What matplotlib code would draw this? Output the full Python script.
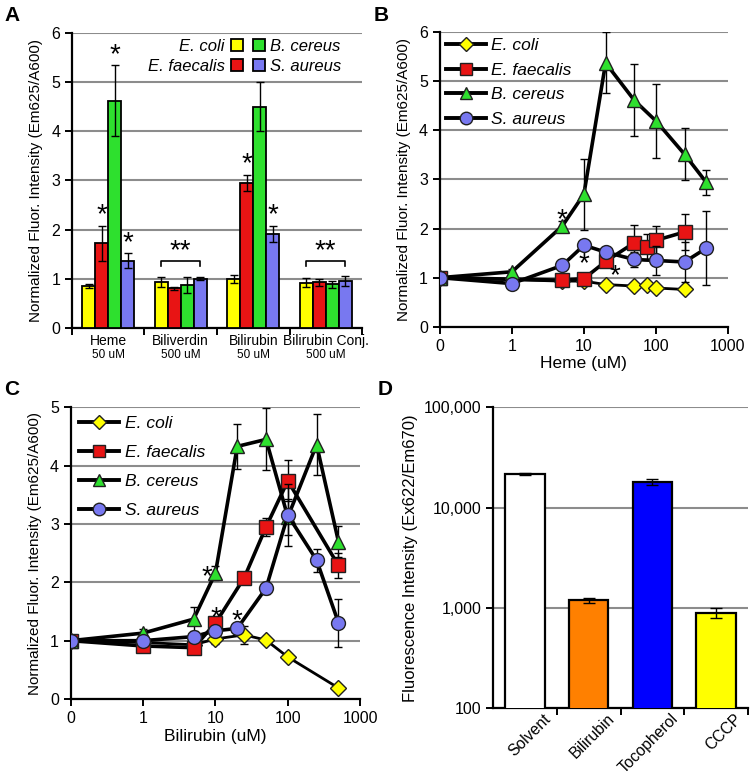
import numpy as np
import matplotlib
matplotlib.use('Agg')
import matplotlib.pyplot as plt
from matplotlib.ticker import FixedLocator, NullLocator, FixedFormatter
from matplotlib.lines import Line2D
from matplotlib.patches import Patch
import matplotlib.transforms as mtrans

plt.rcParams['font.family'] = ['Liberation Sans', 'DejaVu Sans']

# ---------------- data ----------------
species = ['E. coli', 'E. faecalis', 'B. cereus', 'S. aureus']
sp_colors = ['#FFFF00', '#E81414', '#2EE02E', '#7878F0']
sp_markers = ['D', 's', '^', 'o']

# Panel A
a_groups = ['Heme', 'Biliverdin', 'Bilirubin', 'Bilirubin Conj.']
a_conc = ['50 uM', '500 uM', '50 uM', '500 uM']
a_ecoli = [0.85, 0.93, 1.00, 0.92]
a_ecoli_err = [0.04, 0.10, 0.08, 0.09]
a_faecalis = [1.72, 0.81, 2.95, 0.93]
a_faecalis_err = [0.35, 0.03, 0.17, 0.07]
a_cereus = [4.62, 0.88, 4.50, 0.89]
a_cereus_err = [0.72, 0.16, 0.50, 0.07]
a_aureus = [1.37, 1.00, 1.91, 0.95]
a_aureus_err = [0.15, 0.03, 0.16, 0.10]
a_star = [[0, 1, 1, 1], [0, 0, 0, 0], [0, 1, 1, 1], [0, 0, 0, 0]]
a_bracket = [0, 1, 0, 1]

# Panel B (heme)
b_ecoli_x = [0, 5, 10, 20, 50, 75, 100, 250]
b_ecoli_y = [1.0, 0.93, 0.93, 0.86, 0.83, 0.86, 0.79, 0.76]
b_ecoli_e = [0, 0.03, 0.03, 0.03, 0.03, 0.03, 0.03, 0.03]
b_faecalis_x = [0, 5, 10, 20, 50, 75, 100, 250]
b_faecalis_y = [1.0, 0.95, 0.98, 1.33, 1.71, 1.62, 1.76, 1.93]
b_faecalis_e = [0, 0.07, 0.07, 0.05, 0.37, 0.27, 0.30, 0.37]
b_cereus_x = [0, 1, 5, 10, 20, 50, 100, 250, 500]
b_cereus_y = [1.0, 1.12, 2.05, 2.70, 5.37, 4.61, 4.19, 3.51, 2.94]
b_cereus_e = [0, 0.05, 0.10, 0.72, 0.62, 0.73, 0.75, 0.53, 0.25]
b_aureus_x = [0, 1, 5, 10, 20, 50, 100, 250, 500]
b_aureus_y = [1.0, 0.88, 1.25, 1.66, 1.52, 1.37, 1.35, 1.32, 1.60]
b_aureus_e = [0, 0.03, 0.06, 0.06, 0.05, 0.15, 0.30, 0.40, 0.75]
b_star_x = [5, 10, 27]
b_star_y = [2.29, 1.39, 1.15]

# Panel C (bilirubin)
c_ecoli_x = [0, 1, 5, 10, 25, 50, 100, 500]
c_ecoli_y = [1.0, 0.97, 0.93, 1.03, 1.10, 1.01, 0.72, 0.19]
c_ecoli_e = [0, 0.03, 0.03, 0.08, 0.15, 0.03, 0.03, 0.03]
c_faecalis_x = [0, 1, 5, 10, 25, 50, 100, 500]
c_faecalis_y = [1.0, 0.91, 0.88, 1.30, 2.08, 2.95, 3.74, 2.29]
c_faecalis_e = [0, 0.05, 0.05, 0.06, 0.05, 0.15, 0.35, 0.22]
c_cereus_x = [0, 1, 5, 10, 20, 50, 100, 250, 500]
c_cereus_y = [1.0, 1.13, 1.37, 2.16, 4.33, 4.45, 3.12, 4.36, 2.70]
c_cereus_e = [0, 0.07, 0.20, 0.12, 0.39, 0.53, 0.30, 0.52, 0.27]
c_aureus_x = [0, 1, 5, 10, 20, 50, 100, 250, 500]
c_aureus_y = [1.0, 1.0, 1.07, 1.17, 1.21, 1.90, 3.15, 2.38, 1.31]
c_aureus_e = [0, 0.03, 0.05, 0.05, 0.05, 0.10, 0.53, 0.20, 0.41]
c_star_x = [7.6, 10, 20]
c_star_y = [2.21, 1.50, 1.45]

# Panel D
d_labels = ['Solvent', 'Bilirubin', 'Tocopherol', 'CCCP']
d_vals = [21500, 1200, 18100, 895]
d_err = [400, 70, 1400, 100]
d_colors = ['#FFFFFF', '#FF8000', '#0000FF', '#FFFF00']

# ---------------- style ----------------
GRID = '#8C8C8C'
TICKFS = 11.5
YLABFS = 11
STARFS = 20
YLAB = 'Normalized Fluor. Intensity (Em625/A600)'

fig = plt.figure(figsize=(7.52, 7.80), dpi=100)


def style_axes(ax):
    for s in ['top', 'right']:
        ax.spines[s].set_visible(False)
    for s in ['left', 'bottom']:
        ax.spines[s].set_linewidth(1.6)
    ax.tick_params(axis='both', which='both', direction='out', width=1.4,
                   length=5, labelsize=TICKFS)
    ax.yaxis.grid(True, color=GRID, lw=1.5)
    ax.set_axisbelow(True)


# ---------------- Panel A ----------------
axA = fig.add_axes([0.0957, 0.5795, 0.3857, 0.3782])
style_axes(axA)
xg = np.arange(len(a_groups))
w = 0.18
a_vals = [a_ecoli, a_faecalis, a_cereus, a_aureus]
a_errs = [a_ecoli_err, a_faecalis_err, a_cereus_err, a_aureus_err]
for i in range(4):
    xs = xg + (i - 1.5) * w
    axA.bar(xs, a_vals[i], w, color=sp_colors[i], edgecolor='black', lw=1.3,
            yerr=a_errs[i], error_kw=dict(ecolor='black', elinewidth=1.0,
                                          capsize=3, capthick=1.0),
            label=species[i], zorder=3)
    for g in range(4):
        if a_star[g][i]:
            axA.text(xs[g], a_vals[i][g] + a_errs[i][g] - 0.05, '*',
                     ha='center', va='bottom', fontsize=STARFS)
for g in range(4):
    if a_bracket[g]:
        x0 = xg[g] - 1.5 * w
        x1 = xg[g] + 1.5 * w
        axA.plot([x0, x0, x1, x1], [1.27, 1.37, 1.37, 1.27], color='black',
                 lw=1.2, zorder=4)
        axA.text(xg[g], 1.3, '**', ha='center', va='bottom', fontsize=STARFS)
axA.set_xlim(-0.5, 3.5)
axA.set_ylim(0, 6)
axA.set_yticks(range(0, 7))
axA.xaxis.set_major_locator(FixedLocator([]))
axA.xaxis.set_minor_locator(FixedLocator([-0.5, 0.5, 1.5, 2.5, 3.5]))
axA.tick_params(axis='x', which='minor', length=5, width=1.4)
trA = mtrans.blended_transform_factory(axA.transData, axA.transAxes)
for g in range(4):
    axA.text(xg[g], -0.022, a_groups[g], transform=trA, ha='center',
             va='top', fontsize=10)
    axA.text(xg[g], -0.072, a_conc[g], transform=trA, ha='center',
             va='top', fontsize=8.5)
axA.set_ylabel(YLAB, fontsize=YLABFS, labelpad=6)

hA = [Patch(facecolor=sp_colors[i], edgecolor='black', lw=1.3)
      for i in range(4)]
legA1 = axA.legend([hA[0], hA[1]], [species[0], species[1]], loc='upper right',
                   bbox_to_anchor=(0.59, 0.98), frameon=False,
                   markerfirst=False, handlelength=0.7, handleheight=0.7,
                   handletextpad=0.4, labelspacing=0.3, borderpad=0,
                   borderaxespad=0, prop=dict(style='italic', size=12))
axA.add_artist(legA1)
axA.legend([hA[2], hA[3]], [species[2], species[3]], loc='upper left',
           bbox_to_anchor=(0.625, 0.98), frameon=False,
           handlelength=0.7, handleheight=0.7,
           handletextpad=0.3, labelspacing=0.3, borderpad=0,
           borderaxespad=0, prop=dict(style='italic', size=12))


# ---------------- line panels ----------------
def line_panel(ax, xs, ys, es, stars_x, stars_y, ymax, xlabel, leg_anchor,
               leg_spacing):
    style_axes(ax)
    ax.set_xscale('symlog', linthresh=1, linscale=0.9)
    lws = [2.0, 2.6, 2.6, 2.6]
    mss = [8, 9.5, 10, 10]
    handles = []
    for i in range(4):
        ax.errorbar(xs[i], ys[i], yerr=es[i], color='black', lw=lws[i],
                    marker=sp_markers[i], ms=mss[i], mfc=sp_colors[i],
                    mec='#202020', mew=1.0, ecolor='black', elinewidth=1.0,
                    capsize=3, capthick=1.0, zorder=3 + i)
        handles.append(Line2D([], [], color='black', lw=2.8,
                              marker=sp_markers[i], ms=mss[i] - 1,
                              mfc=sp_colors[i], mec='#202020', mew=1.0))
    for sx, sy in zip(stars_x, stars_y):
        ax.text(sx, sy - 0.12, '*', ha='center', va='center',
                fontsize=STARFS, zorder=10)
    ax.set_xlim(0, 1000)
    ax.set_ylim(0, ymax)
    ax.set_yticks(range(0, ymax + 1))
    ax.xaxis.set_major_locator(FixedLocator([0, 1, 10, 100, 1000]))
    ax.xaxis.set_major_formatter(FixedFormatter(['0', '1', '10', '100', '1000']))
    ax.xaxis.set_minor_locator(NullLocator())
    ax.set_xlabel(xlabel, fontsize=12.5, labelpad=2)
    ax.set_ylabel(YLAB, fontsize=YLABFS, labelpad=6)
    ax.legend(handles, species, loc='upper left', bbox_to_anchor=leg_anchor,
              frameon=False, handlelength=2.3, handletextpad=0.3,
              labelspacing=leg_spacing, borderpad=0, borderaxespad=0,
              prop=dict(style='italic', size=12.5))


axB = fig.add_axes([0.585, 0.581, 0.383, 0.378])
line_panel(axB,
           [b_ecoli_x, b_faecalis_x, b_cereus_x, b_aureus_x],
           [b_ecoli_y, b_faecalis_y, b_cereus_y, b_aureus_y],
           [b_ecoli_e, b_faecalis_e, b_cereus_e, b_aureus_e],
           b_star_x, b_star_y, 6, 'Heme (uM)', (0.02, 0.98), 0.55)

axC = fig.add_axes([0.094, 0.1038, 0.385, 0.374])
line_panel(axC,
           [c_ecoli_x, c_faecalis_x, c_cereus_x, c_aureus_x],
           [c_ecoli_y, c_faecalis_y, c_cereus_y, c_aureus_y],
           [c_ecoli_e, c_faecalis_e, c_cereus_e, c_aureus_e],
           c_star_x, c_star_y, 5, 'Bilirubin (uM)', (0.03, 0.97), 0.8)

# ---------------- Panel D ----------------
axD = fig.add_axes([0.6556, 0.0919, 0.3391, 0.3859])
style_axes(axD)
xd = np.arange(len(d_labels))
axD.bar(xd, d_vals, 0.62, color=d_colors, edgecolor='black', lw=1.6,
        yerr=d_err, error_kw=dict(ecolor='black', elinewidth=1.0, capsize=4,
                                  capthick=1.0), zorder=3)
axD.set_yscale('log')
axD.set_ylim(100, 100000)
axD.set_xlim(-0.5, 3.5)
axD.yaxis.set_major_locator(FixedLocator([100, 1000, 10000, 100000]))
axD.yaxis.set_major_formatter(FixedFormatter(['100', '1,000', '10,000', '100,000']))
axD.yaxis.set_minor_locator(NullLocator())
axD.xaxis.set_major_locator(FixedLocator(list(xd)))
axD.xaxis.set_major_formatter(FixedFormatter(d_labels))
axD.xaxis.set_minor_locator(FixedLocator([0.5, 1.5, 2.5, 3.5]))
axD.tick_params(axis='x', which='major', length=0, pad=2)
axD.tick_params(axis='x', which='minor', length=5, width=1.4)
offD = mtrans.ScaledTranslation(18 / 100, 0, fig.dpi_scale_trans)
for lab in axD.get_xticklabels():
    lab.set_rotation(45)
    lab.set_ha('right')
    lab.set_va('top')
    lab.set_rotation_mode('anchor')
    lab.set_fontsize(11.3)
    lab.set_transform(lab.get_transform() + offD)
axD.set_ylabel('Fluorescence Intensity (Ex622/Em670)', fontsize=12, labelpad=4)

# ---------------- panel letters ----------------
for lt, (fx, fy) in zip('ABCD', [(4, 6), (374, 6), (4, 380), (378, 380)]):
    fig.text(fx / 752, 1 - fy / 780, lt, fontsize=15, fontweight='bold',
             ha='left', va='top')

fig.savefig('out.png', dpi=100)
